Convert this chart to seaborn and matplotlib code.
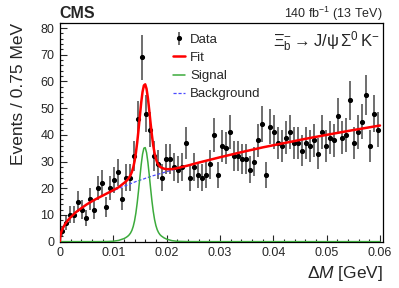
import numpy as np
import pandas as pd
import matplotlib
matplotlib.use("Agg")
import matplotlib.pyplot as plt
import seaborn as sns

# events per 0.75 MeV bin (80 bins from 0 to 0.06 GeV)
bin_width = 0.00075
counts = [4, 7, 10, 10, 15, 12, 9, 16, 12, 20,
          22, 13, 20, 23, 26, 16, 24, 24, 32, 46,
          69, 48, 42, 32, 29, 24, 31, 31, 28, 27,
          28, 37, 24, 28, 25, 24, 25, 29, 40, 25,
          36, 35, 41, 32, 32, 31, 31, 27, 30, 38,
          44, 25, 43, 41, 37, 36, 39, 41, 37, 37,
          34, 37, 36, 38, 33, 41, 36, 39, 38, 47,
          39, 40, 53, 37, 41, 45, 55, 36, 48, 42]

# fit components, read at these delta M values
curve_x = [0.0, 0.0001, 0.0003, 0.0006, 0.001, 0.0015, 0.002,
           0.003, 0.004, 0.005, 0.006, 0.007, 0.008, 0.009, 0.010, 0.011, 0.012,
           0.01225, 0.0125, 0.01275, 0.013, 0.01325, 0.0135, 0.01375, 0.014,
           0.01425, 0.0145, 0.01475, 0.015, 0.01525, 0.0155, 0.01575, 0.016,
           0.01625, 0.0165, 0.01675, 0.017, 0.01725, 0.0175, 0.01775, 0.018,
           0.01825, 0.0185, 0.01875, 0.019,
           0.0195, 0.020, 0.021, 0.022,
           0.024, 0.026, 0.028, 0.030,
           0.034, 0.038, 0.042, 0.046, 0.050, 0.055, 0.060]
background = [0.0, 2.3, 3.8, 5.2, 6.6, 8.0, 9.1,
              11.0, 12.5, 13.9, 15.1, 16.2, 17.2, 18.2, 19.1, 19.9, 20.8,
              20.95, 21.1, 21.3, 21.5, 21.7, 21.9, 22.1, 22.3,
              22.5, 22.65, 22.8, 23.0, 23.2, 23.35, 23.5, 23.7,
              23.9, 24.05, 24.2, 24.4, 24.55, 24.7, 24.85, 25.0,
              25.15, 25.3, 25.45, 25.6,
              25.9, 26.2, 26.8, 27.4,
              28.5, 29.6, 30.6, 31.6,
              33.5, 35.3, 36.9, 38.5, 40.0, 41.8, 43.5]
signal = [0, 0, 0, 0, 0, 0, 0,
          0, 0, 0, 0, 0, 0.01, 0.05, 0.15, 0.45, 1.13,
          1.38, 1.69, 2.06, 2.55, 3.23, 4.21, 5.67, 7.78,
          10.72, 14.54, 19.13, 24.12, 28.91, 32.77, 35.02, 35.23,
          33.36, 29.78, 25.11, 20.12, 15.40, 11.41, 8.29, 6.03,
          4.46, 3.40, 2.66, 2.15,
          1.44, 0.95, 0.37, 0.12,
          0.01, 0, 0, 0,
          0, 0, 0, 0, 0, 0, 0]

x_ticks = [0, 0.01, 0.02, 0.03, 0.04, 0.05, 0.06]
x_ticklabels = ["0", "0.01", "0.02", "0.03", "0.04", "0.05", "0.06"]
y_ticks = [0, 10, 20, 30, 40, 50, 60, 70, 80]

sns.set_style("ticks")
plt.rcParams["font.family"] = ["Liberation Sans", "DejaVu Sans"]
plt.rcParams["mathtext.fontset"] = "custom"
plt.rcParams["mathtext.rm"] = "Liberation Sans"
plt.rcParams["mathtext.it"] = "Liberation Sans:italic"
plt.rcParams["mathtext.bf"] = "Liberation Sans:bold"

data = pd.DataFrame({"dm": (np.arange(len(counts)) + 0.5) * bin_width, "n": counts})
data["err"] = np.sqrt(data["n"])
curves = pd.DataFrame({"dm": curve_x, "bkg": background, "sig": signal})
curves["fit"] = curves["bkg"] + curves["sig"]

fig = plt.figure(figsize=(3.99, 2.88), dpi=100)
ax = fig.add_axes([0.150, 0.161, 0.809, 0.760])

ax.errorbar(data["dm"], data["n"], yerr=data["err"], fmt="o", color="black",
            ecolor="#555555", elinewidth=1.2, markersize=2.7, capsize=0, zorder=2)
sns.lineplot(data=curves, x="dm", y="bkg", ax=ax, color="#4a4aff", lw=0.9,
             linestyle=(0, (2.5, 1.5)), errorbar=None, zorder=3)
sns.lineplot(data=curves, x="dm", y="sig", ax=ax, color="#3cab3c", lw=1.1,
             errorbar=None, zorder=3)
sns.lineplot(data=curves, x="dm", y="fit", ax=ax, color="#ff0000", lw=1.8,
             errorbar=None, zorder=4)

ax.set_xlim(0, 0.0605)
ax.set_ylim(0, 82)
ax.set_xticks(x_ticks)
ax.set_xticklabels(x_ticklabels)
ax.set_yticks(y_ticks)
ax.xaxis.set_minor_locator(matplotlib.ticker.MultipleLocator(0.002))
ax.yaxis.set_minor_locator(matplotlib.ticker.MultipleLocator(2))
ax.tick_params(which="both", direction="in", labelsize=9, pad=4)
ax.tick_params(which="major", length=5, width=0.8)
ax.tick_params(which="minor", length=2.5, width=0.8)
for s in ax.spines.values():
    s.set_linewidth(0.9)
    s.set_color("black")

ax.set_xlabel(r"$\Delta\mathit{M}$ [GeV]", fontsize=12.5, ha="right")
ax.xaxis.set_label_coords(1.0, -0.1)
ax.set_ylabel("Events / 0.75 MeV", fontsize=12.5, ha="right")
ax.yaxis.set_label_coords(-0.105, 1.0)

ax.text(0.0, 1.021, "CMS", transform=ax.transAxes, fontsize=11.5, fontweight="bold",
        ha="left", va="baseline")
ax.text(1.0, 1.021, r"140 fb$^{-1}$ (13 TeV)", transform=ax.transAxes, fontsize=9,
        ha="right", va="baseline")
ax.text(0.99, 0.915, r"$\Xi_{\mathrm{b}}^{-}\rightarrow\mathrm{J}/\mathrm{\psi}\,\Sigma^{0}\,\mathrm{K}^{-}$",
        transform=ax.transAxes, fontsize=12, ha="right", va="center")

data_handle = ax.errorbar([], [], yerr=[], fmt="o", color="black", ecolor="#555555",
                          elinewidth=1.2, markersize=2.7, capsize=0)
fit_handle, = ax.plot([], [], color="#ff0000", lw=1.8)
sig_handle, = ax.plot([], [], color="#3cab3c", lw=1.1)
bkg_handle, = ax.plot([], [], color="#4a4aff", lw=0.9, linestyle=(0, (2.5, 1.5)))
ax.legend([data_handle, fit_handle, sig_handle, bkg_handle],
          ["Data", "Fit", "Signal", "Background"], loc="upper left",
          bbox_to_anchor=(0.35, 0.95), frameon=False, fontsize=9.5,
          handlelength=0.9, handletextpad=0.4, labelspacing=0.45,
          borderaxespad=0, borderpad=0)

fig.savefig("out.png", dpi=100)
